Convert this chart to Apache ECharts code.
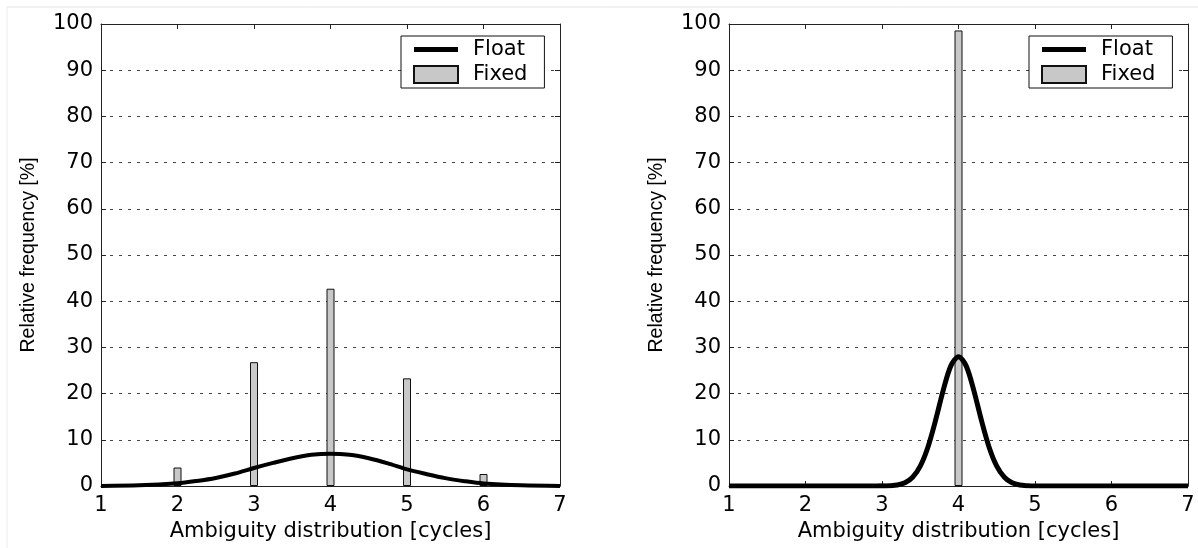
<!DOCTYPE html>
<html>
<head>
<meta charset="utf-8">
<title>Ambiguity distribution</title>
<script src="https://cdn.jsdelivr.net/npm/echarts@6/dist/echarts.min.js"></script>
<style>
  html, body { margin: 0; padding: 0; background: #fff; }
  #chart { width: 1198px; height: 548px; }
</style>
</head>
<body>
<div id="chart"></div>
<script>
// 左图：浮点解曲线 / 固定解柱
const leftFloatX = [1, 1.5, 2, 2.25, 2.5, 2.75, 3, 3.25, 3.5, 3.75, 4, 4.25, 4.5, 4.75, 5, 5.25, 5.5, 5.75, 6, 6.5, 7]
const leftFloatY = [0.02, 0.15, 0.6, 1.1, 1.75, 2.7, 3.9, 5.0, 6.0, 6.75, 7.0, 6.75, 6.0, 4.9, 3.6, 2.6, 1.7, 1.05, 0.55, 0.15, 0.02]
const leftFixedX = [2, 3, 4, 5, 6]
const leftFixedY = [4.0, 26.8, 42.7, 23.3, 2.6]

// 右图
const rightFloatX = [1, 3, 3.1, 3.2, 3.3, 3.4, 3.5, 3.6, 3.7, 3.8, 3.9, 4, 4.1, 4.2, 4.3, 4.4, 4.5, 4.6, 4.7, 4.8, 4.9, 5, 7]
const rightFloatY = [0, 0, 0.05, 0.2, 0.7, 1.9, 4.3, 8.4, 14.2, 20.7, 26.0, 28.0, 26.0, 20.7, 14.2, 8.4, 4.3, 1.9, 0.7, 0.2, 0.05, 0, 0]
const rightFixedX = [3, 4]
const rightFixedY = [0.5, 98.6]

const xTicks = [1, 2, 3, 4, 5, 6, 7]
const yTicks = [0, 10, 20, 30, 40, 50, 60, 70, 80, 90, 100]

const xName = 'Ambiguity distribution [cycles]'
const yName = 'Relative frequency [%]'

const zip = (xs, ys) => xs.map((x, i) => [x, ys[i]])

const labelFont = { fontFamily: 'DejaVu Sans', fontSize: 21, color: '#000' }

// 粗线图例：路径包围盒 44x17，中间一条 5px 的带
const floatIcon = 'path://M0,0L44,0L44,0.01L0,0.01Z M0,6L44,6L44,11L0,11Z M0,16.99L44,16.99L44,17L0,17Z'

function axesFor(gridIndex) {
  const xBottom = {
    type: 'value', gridIndex, position: 'bottom',
    min: xTicks[0], max: xTicks[xTicks.length - 1], interval: 1,
    axisLine: { onZero: false, lineStyle: { color: '#222', width: 1 } },
    axisTick: { inside: true, length: 5, lineStyle: { color: '#222' } },
    axisLabel: { ...labelFont, margin: 9 },
    splitLine: { show: false },
    name: xName, nameLocation: 'middle', nameGap: 35,
    nameTextStyle: { fontFamily: 'DejaVu Sans', fontSize: 21, color: '#000' }
  }
  const xTop = {
    type: 'value', gridIndex, position: 'top',
    min: xTicks[0], max: xTicks[xTicks.length - 1], interval: 1,
    axisLine: { onZero: false, lineStyle: { color: '#222', width: 1 } },
    axisTick: { inside: true, length: 5, lineStyle: { color: '#222' } },
    axisLabel: { show: false },
    splitLine: { show: false }
  }
  const yLeft = {
    type: 'value', gridIndex, position: 'left',
    min: yTicks[0], max: yTicks[yTicks.length - 1], interval: 10,
    axisLine: { show: true, onZero: false, lineStyle: { color: '#222', width: 1 } },
    axisTick: { show: true, inside: true, length: 5, lineStyle: { color: '#222' } },
    axisLabel: { ...labelFont, margin: 8 },
    splitLine: { show: true, lineStyle: { color: '#444', width: 1, type: [3, 6] } },
    name: yName, nameLocation: 'middle', nameGap: 62,
    nameTextStyle: { fontFamily: 'Liberation Sans', fontSize: 19.5, color: '#000' }
  }
  const yRight = {
    type: 'value', gridIndex, position: 'right',
    min: yTicks[0], max: yTicks[yTicks.length - 1], interval: 10,
    axisLine: { show: true, onZero: false, lineStyle: { color: '#222', width: 1 } },
    axisTick: { show: true, inside: true, length: 5, lineStyle: { color: '#222' } },
    axisLabel: { show: false },
    splitLine: { show: false }
  }
  return { x: [xBottom, xTop], y: [yLeft, yRight] }
}

const a0 = axesFor(0)
const a1 = axesFor(1)

function legendFor(left) {
  return {
    orient: 'vertical',
    left, top: 36,
    data: [
      { name: 'Float', icon: floatIcon, itemStyle: { color: '#000', borderWidth: 0 } },
      { name: 'Fixed', icon: 'rect' }
    ],
    itemWidth: 44, itemHeight: 17, itemGap: 4,
    padding: [3, 17, 3, 12],
    borderColor: '#111', borderWidth: 1, backgroundColor: '#fff',
    textStyle: { fontFamily: 'DejaVu Sans', fontSize: 21, color: '#000', lineHeight: 20, padding: [0, 0, 0, 10] },
    selectedMode: false
  }
}

const chart = echarts.init(document.getElementById('chart'), null, { renderer: 'canvas' })

chart.setOption({
  backgroundColor: '#fff',
  animation: false,
  grid: [
    { left: 101, top: 24, width: 459, height: 462 },
    { left: 729, top: 24, width: 459, height: 462 }
  ],
  xAxis: [...a0.x, ...a1.x],
  yAxis: [...a0.y, ...a1.y],
  legend: [legendFor(401), legendFor(1029)],
  graphic: [
    { type: 'line', shape: { x1: 7, y1: 7, x2: 1198, y2: 7 }, style: { stroke: '#e4e4e4', lineWidth: 1 }, silent: true },
    { type: 'line', shape: { x1: 7, y1: 7, x2: 7, y2: 548 }, style: { stroke: '#ececec', lineWidth: 1 }, silent: true }
  ],
  series: [
    {
      name: 'Fixed', type: 'bar', xAxisIndex: 0, yAxisIndex: 0,
      data: zip(leftFixedX, leftFixedY), barWidth: 8,
      itemStyle: { color: '#c8c8c8', borderColor: '#111', borderWidth: 1 }
    },
    {
      name: 'Float', type: 'line', xAxisIndex: 0, yAxisIndex: 0,
      data: zip(leftFloatX, leftFloatY), smooth: 0.3, symbol: 'none',
      lineStyle: { color: '#000', width: 4 }, itemStyle: { color: '#000' }, z: 3
    },
    {
      name: 'Fixed', type: 'bar', xAxisIndex: 2, yAxisIndex: 2,
      data: zip(rightFixedX, rightFixedY), barWidth: 8,
      itemStyle: { color: '#c8c8c8', borderColor: '#111', borderWidth: 1 }
    },
    {
      name: 'Float', type: 'line', xAxisIndex: 2, yAxisIndex: 2,
      data: zip(rightFloatX, rightFloatY), smooth: 0.3, symbol: 'none',
      lineStyle: { color: '#000', width: 5 }, itemStyle: { color: '#000' }, z: 3
    }
  ]
})
</script>
</body>
</html>
